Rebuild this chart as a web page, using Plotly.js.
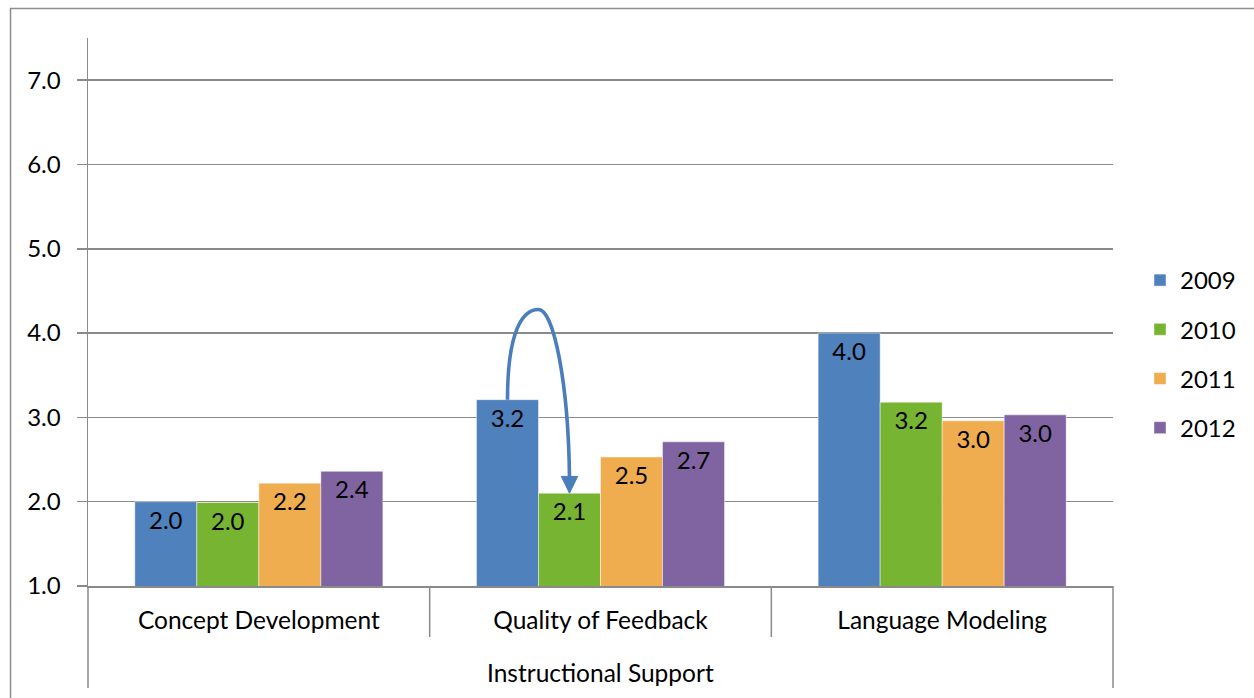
<!DOCTYPE html>
<html>
<head>
<meta charset="utf-8">
<script src="https://cdn.plot.ly/plotly-3.0.1.min.js"></script>
<style>
  html, body { margin: 0; padding: 0; background: #fff; }
  #chart { width: 1254px; height: 698px; }
</style>
</head>
<body>
<div id="chart"></div>
<script>
// CLASS Instructional Support domain scores by year
const categories = ["Concept Development", "Quality of Feedback", "Language Modeling"];
const groupLabel = "Instructional Support";
const years = ["2009", "2010", "2011", "2012"];
const scores2009 = [2.00, 3.21, 4.00];
const scores2010 = [1.99, 2.10, 3.18];
const scores2011 = [2.22, 2.53, 2.96];
const scores2012 = [2.36, 2.71, 3.03];
const yTicks = [1, 2, 3, 4, 5, 6, 7];

const series = [scores2009, scores2010, scores2011, scores2012];
const colors = ["#4F81BD", "#77B431", "#EFAD4F", "#8064A2"];
const FONT = "Lato, 'Open Sans', sans-serif";
const GRID = "#8a8a8a";
const BARGAP = 0.274;

const traces = series.map((vals, i) => ({
  type: "bar",
  name: years[i],
  x: categories,
  y: vals,
  legendgroup: "g" + i,
  marker: { color: colors[i], line: { color: "rgba(255,255,255,0.45)", width: 1 } },
  texttemplate: "%{y:.1f}",
  textposition: "inside",
  insidetextanchor: "end",
  constraintext: "none",
  textfont: { family: FONT, size: 24, color: "#000" },
  hoverinfo: "x+y+name"
}));

// Curved arrow from the 2009 bar to the 2010 bar in "Quality of Feedback"
const groupW = 1 - BARGAP;
const barW = groupW / years.length;
const barCenter = (cat, i) => cat - groupW / 2 + (i + 0.5) * barW;
const qi = 1;
const xs = barCenter(qi, 0), ys = scores2009[qi];
const xe = barCenter(qi, 1), ye = scores2010[qi];
const xp = (xs + xe) / 2, yp = 4.28;
const headH = 0.2, headW = 0.024;
const arrowPath =
  `M${xs},${ys} C${xs},${ys + 0.83} ${xp - 0.045},${yp} ${xp},${yp}` +
  ` C${xp + 0.045},${yp} ${xe - 0.003},${ye + 1.3} ${xe},${ye + headH - 0.02}`;
const headPath =
  `M${xe},${ye} L${xe - headW},${ye + headH} L${xe + headW},${ye + headH} Z`;

const plotBottom = 586, plotTop = 38, plotH = plotBottom - plotTop;
const py = px => (plotBottom - px) / plotH; // pixel row -> paper y

const line = { color: GRID, width: 1.5 };
const shapes = [
  // outer chart frame
  { type: "rect", xref: "paper", yref: "paper", x0: -0.0756, x1: 2, y0: -1, y1: py(8.5),
    line: { color: "#8d8d8d", width: 1.5 }, layer: "below" },
  // axis line continuing through the category labels
  { type: "line", xref: "paper", yref: "paper", x0: 0, x1: 0, y0: 0, y1: py(688), line },
  { type: "line", xref: "paper", yref: "paper", x0: 1, x1: 1, y0: 0, y1: py(688), line },
  // separators between categories
  { type: "line", xref: "paper", yref: "paper", x0: 1 / 3, x1: 1 / 3, y0: 0, y1: py(637), line },
  { type: "line", xref: "paper", yref: "paper", x0: 2 / 3, x1: 2 / 3, y0: 0, y1: py(637), line },
  // arrow
  { type: "path", xref: "x", yref: "y", path: arrowPath,
    line: { color: "#4A7EBB", width: 3.6 }, layer: "above" },
  { type: "path", xref: "x", yref: "y", path: headPath,
    fillcolor: "#4A7EBB", line: { color: "#4A7EBB", width: 1 }, layer: "above" }
];

const layout = {
  width: 1254,
  height: 698,
  margin: { l: 88, r: 141, t: 38, b: 112 },
  paper_bgcolor: "#fff",
  plot_bgcolor: "#fff",
  font: { family: FONT, size: 24, color: "#000" },
  barmode: "group",
  bargap: BARGAP,
  bargroupgap: 0,
  showlegend: true,
  legend: {
    xref: "container", yref: "container",
    x: 1140 / 1254, xanchor: "left", y: 1 - 354 / 698, yanchor: "middle",
    font: { family: FONT, size: 24, color: "#000" },
    traceorder: "grouped", tracegroupgap: 15,
    bgcolor: "rgba(0,0,0,0)"
  },
  xaxis: {
    type: "category",
    range: [-0.5, 2.5],
    showgrid: false,
    showline: true, linecolor: GRID, linewidth: 1.5,
    ticks: "", ticklabelstandoff: 12,
    tickfont: { family: FONT, size: 24.5, color: "#000" },
    fixedrange: true
  },
  yaxis: {
    range: [1, 7.5],
    tickvals: yTicks,
    tickformat: ".1f",
    showgrid: true, gridcolor: GRID, gridwidth: 1.5,
    zeroline: false,
    showline: true, linecolor: GRID, linewidth: 1.5,
    ticks: "outside", ticklen: 10, tickcolor: GRID, tickwidth: 1.5,
    ticklabelstandoff: 11,
    tickfont: { family: FONT, size: 24, color: "#000" },
    fixedrange: true
  },
  shapes: shapes,
  annotations: [
    { text: groupLabel, xref: "paper", yref: "paper", x: 0.5, y: py(672),
      xanchor: "center", yanchor: "middle", showarrow: false,
      font: { family: FONT, size: 24.5, color: "#000" } }
  ]
};

Plotly.newPlot("chart", traces, layout, { displayModeBar: false, staticPlot: true });
</script>
</body>
</html>
